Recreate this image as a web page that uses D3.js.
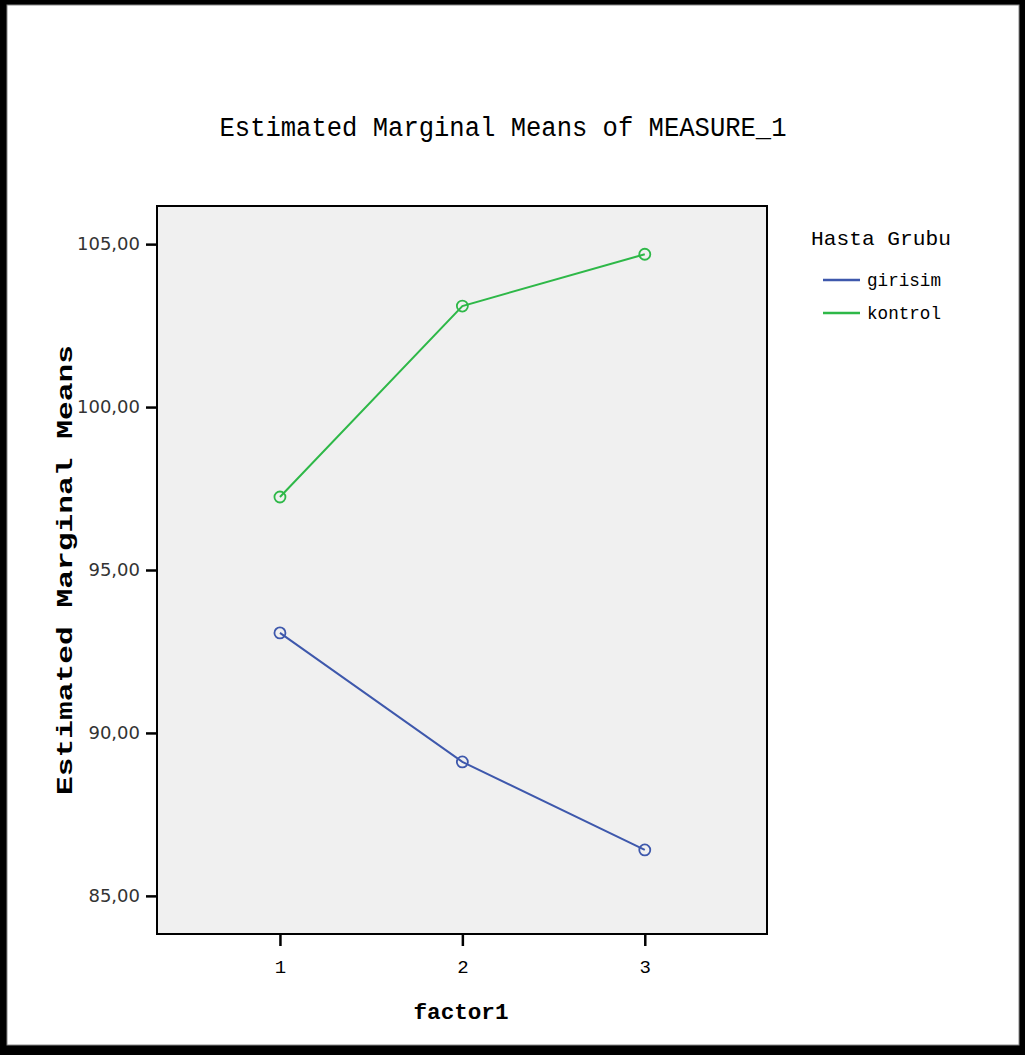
<!DOCTYPE html>
<html>
<head>
<meta charset="utf-8">
<script src="https://cdn.jsdelivr.net/npm/d3@7"></script>
<style>
  html, body { margin: 0; padding: 0; background: #000; }
  svg { display: block; }
</style>
</head>
<body>
<svg id="chart" width="1025" height="1055"></svg>
<script>
// data
const factorLevels = [1, 2, 3];
const girisim = [93.07, 89.11, 86.41];
const kontrol = [97.24, 103.10, 104.69];
const yTicks = [85, 90, 95, 100, 105];
const groupNames = ["girisim", "kontrol"];
const groupColors = ["#3e58ac", "#2eb848"];

const svg = d3.select("#chart");

// outer frame
svg.append("rect").attr("x", 0).attr("y", 0).attr("width", 1025).attr("height", 1055).attr("fill", "#000");
svg.append("rect").attr("x", 7).attr("y", 5).attr("width", 1012).attr("height", 1040)
  .attr("fill", "#fff").attr("stroke", "#888").attr("stroke-width", 1);

const plot = { left: 157, top: 206, right: 767, bottom: 934 };

const xScale = d3.scaleLinear().domain([0.326, 3.67]).range([plot.left, plot.right]);
const yScale = d3.scaleLinear().domain([83.83, 106.17]).range([plot.bottom, plot.top]);

svg.append("rect")
  .attr("x", plot.left).attr("y", plot.top)
  .attr("width", plot.right - plot.left).attr("height", plot.bottom - plot.top)
  .attr("fill", "#f0f0f0").attr("stroke", "#000").attr("stroke-width", 2);

// title
svg.append("text")
  .attr("x", 503).attr("y", 136)
  .attr("text-anchor", "middle")
  .attr("font-family", "Liberation Mono, monospace")
  .attr("font-size", 27)
  .attr("textLength", 567).attr("lengthAdjust", "spacingAndGlyphs")
  .attr("fill", "#000")
  .text("Estimated Marginal Means of MEASURE_1");

// y axis
const yAxis = d3.axisLeft(yScale).tickValues(yTicks).tickSize(11).tickPadding(6)
  .tickFormat(d => d3.format(".2f")(d).replace(".", ","));
const gy = svg.append("g").attr("transform", `translate(${plot.left},0)`).call(yAxis);
gy.select(".domain").remove();
gy.selectAll(".tick line").attr("stroke", "#000").attr("stroke-width", 2.5);
gy.selectAll(".tick text")
  .attr("font-family", "DejaVu Sans, sans-serif")
  .attr("font-size", 18).attr("fill", "#333");

svg.append("text")
  .attr("transform", "translate(72,570) rotate(-90)")
  .attr("text-anchor", "middle")
  .attr("font-family", "Liberation Mono, monospace")
  .attr("font-weight", "bold")
  .attr("font-size", 22)
  .attr("textLength", 450).attr("lengthAdjust", "spacingAndGlyphs")
  .text("Estimated Marginal Means");

// x axis
const xAxis = d3.axisBottom(xScale).tickValues(factorLevels).tickSize(12).tickPadding(14)
  .tickFormat(d3.format("d"));
const gx = svg.append("g").attr("transform", `translate(0,${plot.bottom})`).call(xAxis);
gx.select(".domain").remove();
gx.selectAll(".tick line").attr("stroke", "#000").attr("stroke-width", 2.5);
gx.selectAll(".tick text")
  .attr("font-family", "Liberation Mono, monospace")
  .attr("font-size", 19).attr("fill", "#000");

svg.append("text")
  .attr("x", 461).attr("y", 1019)
  .attr("text-anchor", "middle")
  .attr("font-family", "Liberation Mono, monospace")
  .attr("font-weight", "bold")
  .attr("font-size", 22)
  .attr("textLength", 95).attr("lengthAdjust", "spacingAndGlyphs")
  .text("factor1");

// series
const series = [girisim, kontrol];
const line = d3.line().x((d, i) => xScale(factorLevels[i])).y(d => yScale(d));

series.forEach((vals, k) => {
  svg.append("path")
    .attr("d", line(vals))
    .attr("fill", "none")
    .attr("stroke", groupColors[k])
    .attr("stroke-width", 2);
  svg.selectAll(".pt" + k)
    .data(vals)
    .enter()
    .append("circle")
    .attr("class", "pt" + k)
    .attr("cx", (d, i) => xScale(factorLevels[i]))
    .attr("cy", d => yScale(d))
    .attr("r", 5.5)
    .attr("fill", "none")
    .attr("stroke", groupColors[k])
    .attr("stroke-width", 1.8);
});

// legend
const legend = svg.append("g").attr("transform", "translate(811,0)");
legend.append("text")
  .attr("x", 0).attr("y", 245)
  .attr("font-family", "Liberation Mono, monospace")
  .attr("font-size", 21)
  .attr("textLength", 140).attr("lengthAdjust", "spacingAndGlyphs")
  .text("Hasta Grubu");

groupNames.forEach((name, k) => {
  const y = 280 + k * 33;
  legend.append("line")
    .attr("x1", 12).attr("x2", 49).attr("y1", y).attr("y2", y)
    .attr("stroke", groupColors[k]).attr("stroke-width", 2.5);
  legend.append("text")
    .attr("x", 56).attr("y", y + 6)
    .attr("font-family", "Liberation Mono, monospace")
    .attr("font-size", 18)
    .attr("textLength", 74).attr("lengthAdjust", "spacingAndGlyphs")
    .text(name);
});
</script>
</body>
</html>
